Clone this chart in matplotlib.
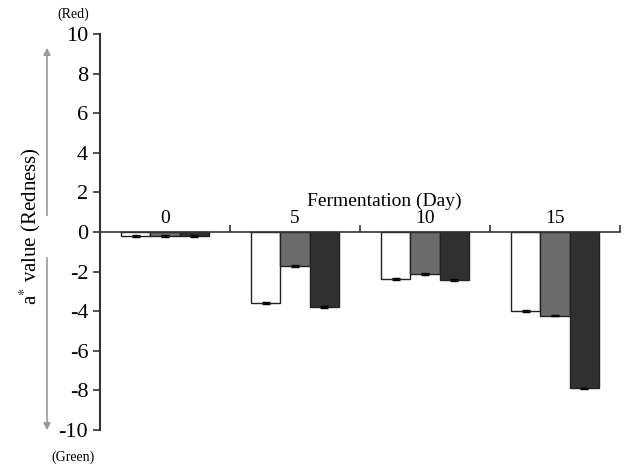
import numpy as np
import matplotlib
matplotlib.use('Agg')
import matplotlib.pyplot as plt

plt.rcParams['font.family'] = ['Liberation Serif', 'DejaVu Serif']
plt.rcParams['axes.unicode_minus'] = False
plt.rcParams['mathtext.fontset'] = 'stix'

# data
days = ['0', '5', '10', '15']
s1 = [-0.2, -3.6, -2.35, -3.98]
s2 = [-0.2, -1.7, -2.12, -4.22]
s3 = [-0.2, -3.8, -2.42, -7.9]
err1 = [0.04, 0.05, 0.05, 0.04]
err2 = [0.03, 0.05, 0.04, 0.04]
err3 = [0.04, 0.05, 0.05, 0.04]

colors = ['white', '#6b6b6b', '#303030']

fig = plt.figure(figsize=(6.27, 4.67), dpi=100)
ax = fig.add_axes([100/627, 37/467, 520/627, 396/467])

x = np.arange(len(days))
w = 0.225
for i, (vals, errs) in enumerate(zip([s1, s2, s3], [err1, err2, err3])):
    ax.bar(x + (i - 1) * w, vals, w, color=colors[i], edgecolor='#222222', lw=1.0,
           yerr=errs, error_kw=dict(ecolor='black', capsize=3, elinewidth=1, capthick=1))

ax.set_xlim(-0.5, 3.5)
ax.set_ylim(-10, 10)
ax.set_yticks(np.arange(-10, 11, 2))
ax.tick_params(axis='y', labelsize=16, direction='out', length=5, width=1.2, color='#333333')

ax.spines['top'].set_visible(False)
ax.spines['right'].set_visible(False)
ax.spines['bottom'].set_position(('data', 0))
ax.spines['bottom'].set_color('#333333')
ax.spines['left'].set_color('#333333')
ax.spines['left'].set_linewidth(1.5)
ax.spines['bottom'].set_linewidth(1.2)
ax.set_xticks(x + 0.5)
ax.set_xticklabels([])
ax.tick_params(axis='x', direction='in', length=5, width=1.2, color='#333333')

for xi, d in zip(x, days):
    ax.text(xi, 0.25, d, ha='center', va='bottom', fontsize=14)
ax.text(1.69, 1.1, 'Fermentation (Day)', ha='center', va='bottom', fontsize=14)

# y label and arrows
fig.text(30/627, 1 - 226/467, 'a$^{*}$ value (Redness)', rotation=90, ha='center', va='center',
         fontsize=15)
fig.text(73/627, 1 - 14/467, '(Red)', ha='center', va='center', fontsize=10)
fig.text(73/627, 1 - 457/467, '(Green)', ha='center', va='center', fontsize=10)
fig.add_artist(matplotlib.patches.FancyArrowPatch((47/627, 1 - 218/467), (47/627, 1 - 45/467),
               transform=fig.transFigure, arrowstyle='-|>', mutation_scale=10,
               color='#999999', lw=1.2))
fig.add_artist(matplotlib.patches.FancyArrowPatch((47/627, 1 - 255/467), (47/627, 1 - 433/467),
               transform=fig.transFigure, arrowstyle='-|>', mutation_scale=10,
               color='#999999', lw=1.2))

fig.savefig('out.png', dpi=100)
